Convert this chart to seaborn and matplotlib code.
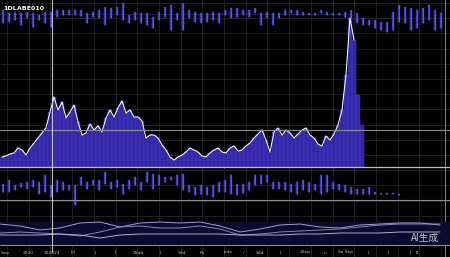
import numpy as np
import pandas as pd
import matplotlib
matplotlib.use("Agg")
import matplotlib.pyplot as plt
import seaborn as sns

# ---------------- data ----------------
main_values = [10, 11, 13, 14, 19, 17, 12, 19, 24, 29,
               34, 39, 55, 70, 57, 65, 49, 55, 62, 45,
               32, 34, 43, 37, 41, 35, 49, 57, 50, 59,
               66, 54, 57, 50, 50, 46, 29, 32, 32, 29,
               22, 17, 10, 7, 10, 12, 15, 19, 17, 15,
               11, 10, 14, 17, 19, 15, 14, 19, 21, 16,
               17, 21, 24, 29, 33, 37, 27, 15, 35, 39,
               32, 37, 34, 29, 33, 37, 39, 32, 29, 23,
               21, 31, 27, 33, 42, 57, 92, 149, 127, 72,
               42]
main_line_len = 89
main_ref_level = 37

top_hi = [25, 22, 23, 22, 23, 22, 20, 23, 23, 25, 25, 25, 25, 25, 22, 23, 25, 28, 27, 28,
          32, 20, 23, 22, 22, 18, 23, 28, 30, 22, 32, 25, 23, 22, 22, 23, 22, 25, 27, 27,
          25, 25, 27, 22, 23, 22, 22, 25, 25, 25, 23, 22, 22, 25, 23, 22, 22, 23, 25, 22,
          17, 15, 15, 13, 13, 23, 30, 28, 27, 25, 27, 30, 25, 22]
top_lo = [12, 13, 15, 10, 17, 8, 15, 12, 8, 18, 20, 20, 20, 19, 12, 18, 17, 10, 17, 20,
          15, 12, 15, 12, 10, 7, 15, 18, 5, 15, 5, 17, 13, 12, 13, 15, 12, 20, 17, 18,
          20, 18, 22, 10, 17, 10, 17, 20, 22, 20, 20, 20, 20, 22, 20, 20, 20, 18, 15, 12,
          10, 10, 7, 5, 3, 5, 13, 12, 5, 7, 12, 15, 5, 7]

mid_hi = [16, 20, 15, 17, 18, 20, 18, 25, 15, 20, 18, 15, 15, 23, 18, 20, 20, 28, 18, 20,
          16, 20, 23, 18, 28, 26, 25, 23, 23, 25, 26, 15, 13, 15, 13, 15, 18, 20, 25, 16,
          16, 18, 25, 25, 25, 18, 18, 18, 16, 18, 20, 18, 16, 25, 25, 18, 16, 15, 13, 11,
          11, 13, 8, 7, 7, 7, 6]
mid_lo = [8, 8, 10, 13, 11, 13, 6, 8, 3, 8, 10, 10, -5, 15, 11, 15, 10, 16, 11, 13,
          6, 11, 15, 10, 18, 11, 15, 18, 20, 15, 10, 8, 5, 6, 5, 3, 8, 8, 6, 5,
          7, 10, 15, 16, 18, 11, 11, 10, 8, 6, 10, 8, 10, 6, 8, 11, 10, 8, 6, 6,
          6, 6, 6, 6, 6, 6, 5]

osc_a = [22, 20, 16, 18, 23, 24, 19, 23, 24, 23, 24, 20, 14, 17, 21, 22, 19, 18, 21, 22, 23, 23, 21]
osc_b = [13, 14, 13, 12, 10, 14, 19, 20, 18, 18, 20, 17, 11, 12, 14, 15, 16, 17, 19, 21, 22, 22, 22]
osc_c = [11, 11, 11, 12, 11, 8, 11, 12, 12, 12, 12, 12, 11, 11, 11, 12, 12, 13, 13, 13, 14, 14, 14]

tick_labels = ["Sow", "2020", "102024", "Jul", "|", "J", "1Sdd", "|", "Sdd", "Ra",
               "Jsdo", "/", "Sdd", "|", "2Sep", "u", "Sa Sep", "|", "|", "|", "l1"]
title_text = "1DLABE010"
watermark = "AI生成"

# ---------------- style ----------------
sns.set_style("dark", rc={"axes.facecolor": "black", "figure.facecolor": "black"})
plt.rcParams["font.family"] = ["DejaVu Sans"]

W, H = 450, 257
fig = plt.figure(figsize=(4.5, 2.57), dpi=100)
fig.patch.set_facecolor("black")


def px_axes(top, bottom, left=0, right=W, z=1):
    ax = fig.add_axes([left / W, 1 - bottom / H, (right - left) / W, (bottom - top) / H])
    ax.set_zorder(z)
    ax.set_facecolor("none")
    for s in ax.spines.values():
        s.set_visible(False)
    ax.set_xticks([])
    ax.set_yticks([])
    return ax


FILL = "#3127a8"
CANDLE = "#3a33c0"
GRID = "#262626"

# background with grid
bg = px_axes(0, H, z=0)
bg.set_facecolor("black")
bg.set_xlim(0, W)
bg.set_ylim(H, 0)
for gx in np.arange(7, 445, 21.7):
    bg.axvline(gx, color=GRID, lw=0.6)
for gy in np.arange(3, 246, 15.2):
    bg.axhline(gy, color=GRID, lw=0.6)
bg.axvline(445, color="#9a9a9a", lw=0.6)

# top candle strip
ax_top = px_axes(0, 35, z=2)
xt = np.arange(len(top_hi))
ax_top.vlines(xt, top_lo, top_hi, color="#6a66e8", lw=0.5)
ax_top.bar(xt, np.array(top_hi) - np.array(top_lo), bottom=top_lo, width=0.32,
           color=CANDLE, edgecolor="#5f5af0", linewidth=0.25)
ax_top.axhline(21, xmin=0.0, xmax=0.78, color="#5552b0", lw=0.4, alpha=0.6)
ax_top.set_xlim(-0.5, 74.5)
ax_top.set_ylim(0, 35)

# main area
ax_main = px_axes(0, 167, z=3)
xm = np.arange(len(main_values))
ax_main.bar(xm, main_values, width=1.0, color=FILL, edgecolor="#4a40c4", linewidth=0.3)
df_main = pd.DataFrame({"x": xm[:main_line_len], "v": main_values[:main_line_len]})
sns.lineplot(data=df_main, x="x", y="v", ax=ax_main, color="white", lw=0.75)
ax_main.axhline(main_ref_level, color="#8c8c8c", lw=0.8)
ax_main.set_xlim(-0.5, 112)
ax_main.set_ylim(0, 167)
ax_main.spines["bottom"].set_visible(True)
ax_main.spines["bottom"].set_color("#bdbdbd")
ax_main.spines["bottom"].set_linewidth(0.9)
ax_main.set_xlabel("")
ax_main.set_ylabel("")

# middle candle panel
ax_mid = px_axes(167, 208, z=3)
xc = np.arange(len(mid_hi))
ax_mid.vlines(xc, mid_lo, mid_hi, color="#6a66e8", lw=0.5)
ax_mid.bar(xc, np.array(mid_hi) - np.array(mid_lo), bottom=mid_lo, width=0.38,
           color=CANDLE, edgecolor="#5f5af0", linewidth=0.25)
ax_mid.axhline(0, color="#8c8c8c", lw=0.8)
ax_mid.set_xlim(-0.5, 74.5)
ax_mid.set_ylim(-8, 33)

# oscillator panel
ax_osc = px_axes(200, 246, z=3)
ax_osc.axhspan(1, 24, color="#0b0b2e", zorder=0)
xo = np.arange(len(osc_a))
df_osc = pd.DataFrame({"x": np.concatenate([xo, xo, xo]),
                       "v": osc_a + osc_b + osc_c,
                       "s": ["a"] * len(osc_a) + ["b"] * len(osc_b) + ["c"] * len(osc_c)})
sns.lineplot(data=df_osc, x="x", y="v", hue="s", ax=ax_osc,
             palette={"a": "#a9a5dc", "b": "#8f8bc8", "c": "#b9b6e6"},
             lw=0.65, legend=False)
ax_osc.axhline(1, color="#9a9a9a", lw=0.7)
ax_osc.set_xlim(0, 22.5)
ax_osc.set_ylim(0, 46)
ax_osc.set_xlabel("")
ax_osc.set_ylabel("")

# overlay for crosshair and text
ov = px_axes(0, H, z=10)
ov.set_xlim(0, W)
ov.set_ylim(H, 0)
ov.axvline(52, ymin=0.02, ymax=1.0, color="#e0e0e0", lw=0.8, alpha=0.85)
tick_x = [5, 28, 52, 73, 95, 115, 138, 160, 182, 202, 228, 244, 260, 280, 305, 325, 345,
          368, 388, 410, 418]
for tx, tl in zip(tick_x, tick_labels):
    ov.text(tx, 252.5, tl, fontsize=3.2, color="#bdbdbd", ha="center", va="center")
ov.text(3, 8, title_text, fontsize=4.6, fontweight="bold", color="white",
        ha="left", va="center")
ov.text(425, 238, watermark, fontsize=7, color="#c8c8c8", ha="center", va="center",
        family=["Noto Sans CJK SC", "DejaVu Sans"])

fig.savefig("out.png", dpi=100, facecolor="black")
